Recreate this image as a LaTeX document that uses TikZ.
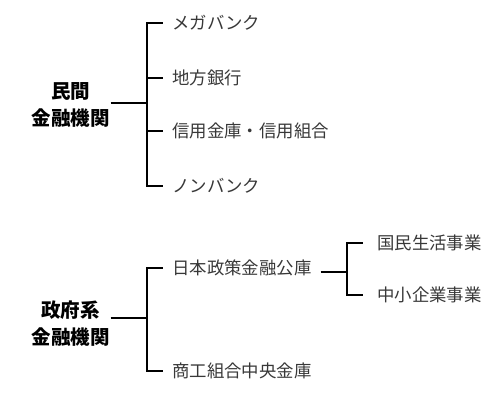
\documentclass[tikz,border=0pt]{standalone}
\usepackage{fontspec}
\setmainfont{Noto Sans CJK JP}
\begin{document}
\begin{tikzpicture}[x=1pt, y=-1pt,
  root/.style={align=center, inner sep=1pt, font=\fontsize{19.5}{27}\selectfont\bfseries},
  item/.style={anchor=west, inner xsep=9pt, inner ysep=1pt, text=black!78, font=\fontsize{17.4}{20}\selectfont},
  branch/.style={line width=2pt}]
\useasboundingbox (0,0) rectangle (500,407);
% upper tree
\node [root] (minkan) at (70.5,104.5) {民間\\金融機関};
\coordinate (minkanj) at (146.5,103);
\node [item] (mega) at (163,23) {メガバンク};
\node [item] (chiho) at (163,78) {地方銀行};
\node [item] (shinkin) at (163,131) {信用金庫・信用組合};
\node [item] (nonbank) at (163,186) {ノンバンク};
\draw [branch] (minkan.east |- minkanj) -- (minkanj);
\draw [branch] (minkanj) |- (mega.west);
\draw [branch] (minkanj) |- (chiho.west);
\draw [branch] (minkanj) |- (shinkin.west);
\draw [branch] (minkanj) |- (nonbank.west);
% lower tree
\node [root] (seifu) at (70.5,324) {政府系\\金融機関};
\coordinate (seifuj) at (146.5,318);
\node [item] (nihon) at (163,268) {日本政策金融公庫};
\node [item] (shoko) at (163,371) {商工組合中央金庫};
\draw [branch] (seifu.east |- seifuj) -- (seifuj);
\draw [branch] (seifuj) |- (nihon.west);
\draw [branch] (seifuj) |- (shoko.west);
% sub tree
\coordinate (nihonj) at (346.5,272);
\node [item, inner xsep=14pt] (kokumin) at (363,243) {国民生活事業};
\node [item, inner xsep=14pt] (chusho) at (363,295) {中小企業事業};
\draw [branch] (nihon.east |- nihonj) -- (nihonj);
\draw [branch] (nihonj) |- (kokumin.west);
\draw [branch] (nihonj) |- (chusho.west);
\end{tikzpicture}
\end{document}
